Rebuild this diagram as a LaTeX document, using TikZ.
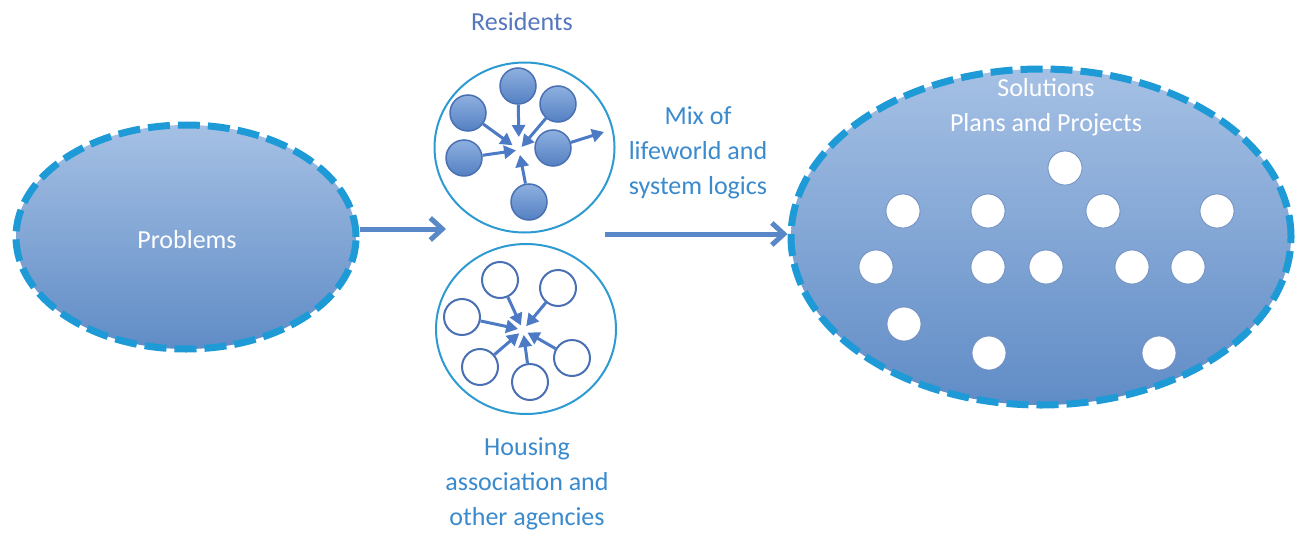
\documentclass[tikz,border=0pt]{standalone}
\usepackage{fontspec}
\setmainfont{Carlito}
\usetikzlibrary{shapes.geometric,arrows.meta,calc}
\definecolor{dashblue}{RGB}{30,154,214}
\definecolor{elltop}{RGB}{165,192,228}
\definecolor{ellbot}{RGB}{96,140,198}
\definecolor{ringblue}{RGB}{46,154,210}
\definecolor{arrowblue}{RGB}{76,122,196}
\definecolor{dotedge}{RGB}{74,112,180}
\definecolor{dottop}{RGB}{142,176,224}
\definecolor{dotbot}{RGB}{84,128,194}
\definecolor{textblue}{RGB}{58,138,206}
\definecolor{resblue}{RGB}{86,118,190}
\definecolor{bigarrow}{RGB}{88,136,200}
\definecolor{soldotedge}{RGB}{112,142,192}
\begin{document}
\begin{tikzpicture}[x=1pt,y=-1pt,
  bigell/.style={ellipse, inner sep=0pt, draw=dashblue, line width=7pt,
    dash pattern=on 22pt off 8pt, top color=elltop, bottom color=ellbot},
  ring/.style={ellipse, inner sep=0pt, draw=ringblue, line width=2pt,
    minimum width=180pt, minimum height=170pt},
  resdot/.style={circle, inner sep=0pt, minimum size=36pt, draw=dotedge,
    line width=1.5pt, top color=dottop, bottom color=dotbot},
  agdot/.style={circle, inner sep=0pt, minimum size=36pt, draw=dotedge,
    line width=2pt, fill=white},
  soldot/.style={circle, inner sep=0pt, minimum size=34pt, draw=soldotedge,
    line width=0.8pt, fill=white},
  dotarr/.style={draw=arrowblue, line width=3pt,
    -{Triangle[length=12pt,width=13pt]}, shorten >=5pt},
  bigarr/.style={draw=bigarrow, line width=5pt,
    -{Straight Barb[length=12pt,width=22pt]}},
  lbl/.style={font=\fontsize{26}{35}\selectfont, align=center, inner sep=0pt}
]
\fill[white] (0,0) rectangle (1297,535);
\useasboundingbox (0,0) rectangle (1297,535);

% big ellipses
\node[bigell, minimum width=340pt, minimum height=224pt] (prob) at (186,237) {};
\node[font=\fontsize{26}{35}\selectfont, text=white, inner sep=0pt] (probtext) at (187,240) {Problems};
\node[bigell, minimum width=500pt, minimum height=336pt] (sol) at (1041,237) {};
\node[lbl, text=white] (soltitle) at (1046,107) {Solutions\\Plans and Projects};

% residents
\node[ring] (res) at (524.5,147.5) {};
\coordinate (rhub) at (519,150);
\coordinate (rout) at (604,132);
\node[resdot] (r1) at (518,86) {};
\node[resdot] (r2) at (468,113) {};
\node[resdot] (r3) at (558,104) {};
\node[resdot] (r4) at (464,158) {};
\node[resdot] (r5) at (553,148) {};
\node[resdot] (r6) at (529,202) {};
\draw[dotarr, shorten >=13pt] (r1) -- (rhub);
\draw[dotarr, shorten >=8pt] (r2) -- (rhub);
\draw[dotarr, shorten >=4pt] (r3) -- (rhub);
\draw[dotarr, shorten >=3pt] (r4) -- (rhub);
\draw[dotarr, shorten >=0pt] (r5) -- (rout);
\draw[dotarr] (r6) -- (rhub);

% agencies
\node[ring] (ag) at (526,329) {};
\coordinate (ahub) at (523,330);
\node[agdot] (a1) at (500,280) {};
\node[agdot] (a2) at (558,288) {};
\node[agdot] (a3) at (462,317) {};
\node[agdot] (a4) at (480,367) {};
\node[agdot] (a5) at (530,382) {};
\node[agdot] (a6) at (572,358) {};
\foreach \n in {a1,a2,a3,a4,a5,a6}{\draw[dotarr] (\n) -- (ahub);}

% solution dots
\node[soldot] (s1) at (1065,168) {};
\node[soldot] (s2) at (903,211) {};
\node[soldot] (s3) at (988,211) {};
\node[soldot] (s4) at (1103,211) {};
\node[soldot] (s5) at (1217,211) {};
\node[soldot] (s6) at (876,267) {};
\node[soldot] (s7) at (988,267) {};
\node[soldot] (s8) at (1046,267) {};
\node[soldot] (s9) at (1132,267) {};
\node[soldot] (s10) at (1188,267) {};
\node[soldot] (s11) at (904,324) {};
\node[soldot] (s12) at (989,353) {};
\node[soldot] (s13) at (1159,353) {};

% labels
\node[lbl, text=resblue] (restitle) at (522,22) {Residents};
\node[lbl, text=textblue] (mix) at (698,153) {Mix of\\lifeworld and\\system logics};
\node[lbl, text=textblue] (house) at (527,484) {Housing\\association and\\other agencies};

% main arrows
\coordinate (p1) at (446,229);
\coordinate (m1) at (605,234);
\draw[bigarr] (prob.east |- p1) -- (p1);
\draw[bigarr] (m1) -- (sol.west |- m1);
\end{tikzpicture}
\end{document}
